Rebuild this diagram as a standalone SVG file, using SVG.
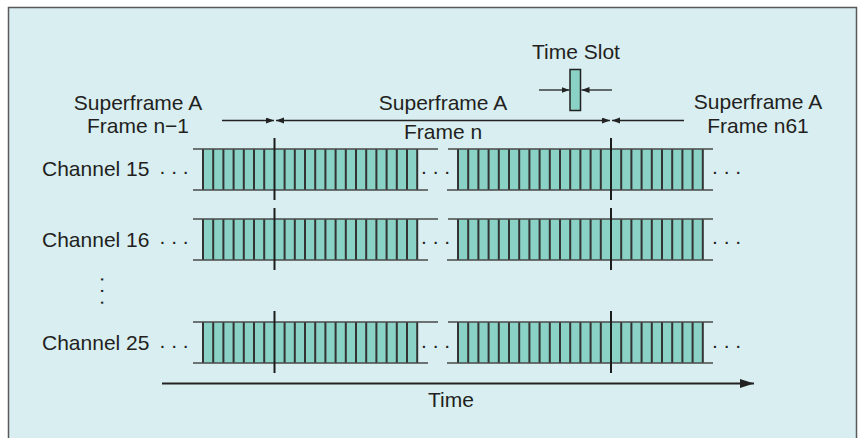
<svg xmlns="http://www.w3.org/2000/svg" xmlns:xlink="http://www.w3.org/1999/xlink" width="862" height="438" viewBox="0 0 862 438">
<style>
.t{font-family:"Liberation Sans",Arial,Helvetica,sans-serif;font-size:21px;fill:#231f20}
.c{text-anchor:middle}
.slot{fill:#8ad2c6}
.sl{stroke:#333;stroke-width:2;fill:none}
.hl{stroke:#4a4a4a;stroke-width:1.6;fill:none}
.fl{stroke:#1c1c1c;stroke-width:2;fill:none}
.ar{stroke:#222;stroke-width:1.3;fill:none}
</style>
<defs>
<marker id="ah" markerUnits="userSpaceOnUse" markerWidth="9" markerHeight="7" refX="8" refY="3" orient="auto-start-reverse"><path d="M0,0 L8,3 L0,6 z" fill="#222"/></marker>
<marker id="ahb" markerUnits="userSpaceOnUse" markerWidth="16" markerHeight="10" refX="14" refY="4.5" orient="auto"><path d="M0,0 L14,4.5 L0,9 z" fill="#222"/></marker>
<g id="bar">
<rect class="slot" x="203" y="0" width="214.2" height="41"/>
<rect class="slot" x="458" y="0" width="244.8" height="41"/>
<path class="sl" d="M203 0V41M213.2 0V41M223.4 0V41M233.6 0V41M243.8 0V41M254 0V41M264.2 0V41M284.6 0V41M294.8 0V41M305 0V41M315.2 0V41M325.4 0V41M335.6 0V41M345.8 0V41M356 0V41M366.2 0V41M376.4 0V41M386.6 0V41M396.8 0V41M407 0V41M417.2 0V41"/>
<path class="sl" d="M458 0V41M468.2 0V41M478.4 0V41M488.6 0V41M498.8 0V41M509 0V41M519.2 0V41M529.4 0V41M539.6 0V41M549.8 0V41M560 0V41M570.2 0V41M580.4 0V41M590.6 0V41M600.8 0V41M621.2 0V41M631.4 0V41M641.6 0V41M651.8 0V41M662 0V41M672.2 0V41M682.4 0V41M692.6 0V41M702.8 0V41"/>
<path class="hl" d="M193 0H438M193 41H428M448 0H713M447 41H713"/>
<path class="fl" d="M274.5 -11V51M611 -11V51"/>
</g>
</defs>
<rect x="8.5" y="7.5" width="848" height="445" fill="#d8eef1" stroke="#5a5a5a" stroke-width="1.5"/>

<g id="label-frame-prev">
<text class="t c" x="138" y="110">Superframe A</text>
<text class="t c" x="138" y="133">Frame n−1</text>
</g>
<g id="label-frame-n">
<text class="t c" x="443" y="110">Superframe A</text>
<text class="t c" x="443" y="139">Frame n</text>
</g>
<g id="label-frame-next">
<text class="t c" x="758" y="109">Superframe A</text>
<text class="t c" x="758" y="133">Frame n61</text>
</g>
<g id="time-slot">
<text class="t c" x="576" y="59">Time Slot</text>
<rect x="570" y="69.5" width="10.5" height="41" class="slot" stroke="#222" stroke-width="1.5"/>
</g>

<g id="channel-15">
<text class="t" x="42" y="176">Channel 15</text>
<text class="t" x="159.5" y="174">. . .</text>
<use xlink:href="#bar" transform="translate(0,149)"/>
<text class="t" x="421" y="174">. . .</text>
<text class="t" x="712" y="174">. . .</text>
</g>
<g id="channel-16">
<text class="t" x="42" y="247">Channel 16</text>
<text class="t" x="159.5" y="244">. . .</text>
<use xlink:href="#bar" transform="translate(0,219)"/>
<text class="t" x="421" y="244">. . .</text>
<text class="t" x="712" y="244">. . .</text>
</g>
<g id="channel-ellipsis">
<text class="t" x="100.5" y="276.4" transform="rotate(90 100.5 276.4)">. . .</text>
</g>
<g id="channel-25">
<text class="t" x="42" y="350">Channel 25</text>
<text class="t" x="159.5" y="347.5">. . .</text>
<use xlink:href="#bar" transform="translate(0,322)"/>
<text class="t" x="421" y="347.5">. . .</text>
<text class="t" x="712" y="347.5">. . .</text>
</g>
<g id="time-axis-label">
<text class="t c" x="451" y="407">Time</text>
</g>

<g id="connectors">
<path class="ar" d="M222 120.5H274" marker-end="url(#ah)"/>
<path class="ar" d="M276 120.5H610" marker-start="url(#ah)" marker-end="url(#ah)"/>
<path class="ar" d="M684 120.5H612" marker-end="url(#ah)"/>
<path class="ar" d="M539 90H569.5" marker-end="url(#ah)"/>
<path class="ar" d="M612 90H581.5" marker-end="url(#ah)"/>
<path d="M162 383.5H754" stroke="#222" stroke-width="2" fill="none" marker-end="url(#ahb)"/>
</g>
</svg>
